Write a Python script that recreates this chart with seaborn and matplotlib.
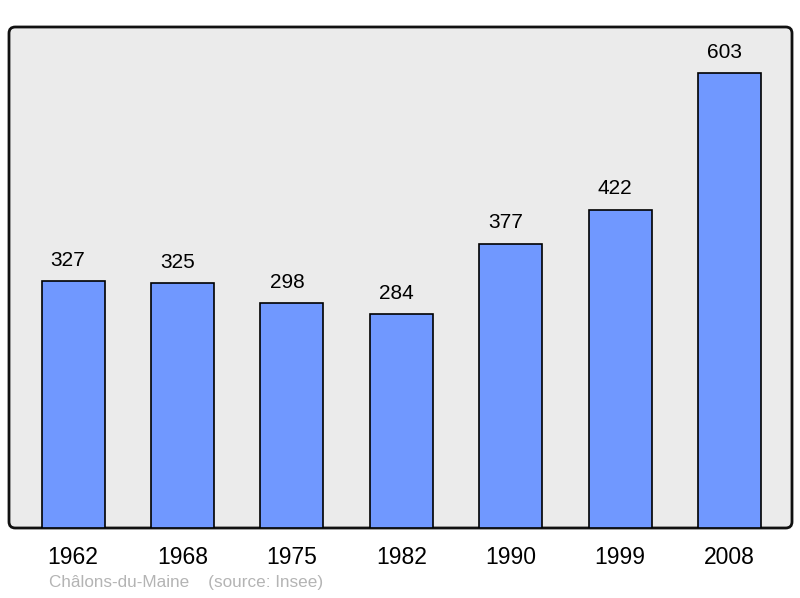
import matplotlib
matplotlib.use("Agg")
import matplotlib.pyplot as plt
import seaborn as sns
import pandas as pd
from matplotlib.patches import FancyBboxPatch

years = ["1962", "1968", "1975", "1982", "1990", "1999", "2008"]
population = [327, 325, 298, 284, 377, 422, 603]

sns.set_theme(style="white")
plt.rcParams['font.family'] = ['Liberation Sans', 'DejaVu Sans']

df = pd.DataFrame({"year": years, "pop": population})

fig = plt.figure(figsize=(8.0, 5.98), dpi=100)
ax = fig.add_axes([9/800, 70/598, 783/800, 501/598])
ax.set_facecolor("#ebebeb")
ax.patch.set_visible(False)

sns.barplot(data=df, x="year", y="pop", ax=ax, color="#7098ff", saturation=1,
            width=0.576, edgecolor="black", linewidth=1.2, zorder=3)

for p, v in zip(ax.patches, population):
    ax.annotate(str(v), (p.get_x() + p.get_width()/2, p.get_height()),
                xytext=(-3.6, 8), textcoords="offset points", ha="center", va="bottom",
                fontsize=15, color="black")

ax.set_xlim(-0.585, 6.57)
ax.set_ylim(0, 664)
ax.set_xlabel("")
ax.set_ylabel("")
ax.set_yticks([])
ax.tick_params(axis="x", length=0, labelsize=16.5, pad=13, colors="black")
for s in ax.spines.values():
    s.set_visible(False)

frame = FancyBboxPatch((0, 0), 1, 1, boxstyle="round,pad=0,rounding_size=0.008",
                       mutation_aspect=783/501, transform=ax.transAxes,
                       facecolor="#ebebeb", edgecolor="#111111", linewidth=2,
                       zorder=0, clip_on=False)
ax.add_patch(frame)

fig.text(49/800, 1 - 583/598, "Châlons-du-Maine    (source: Insee)", fontsize=12.3,
         color="#b4b4b4", ha="left", va="center")

fig.savefig("out.png", dpi=100)
